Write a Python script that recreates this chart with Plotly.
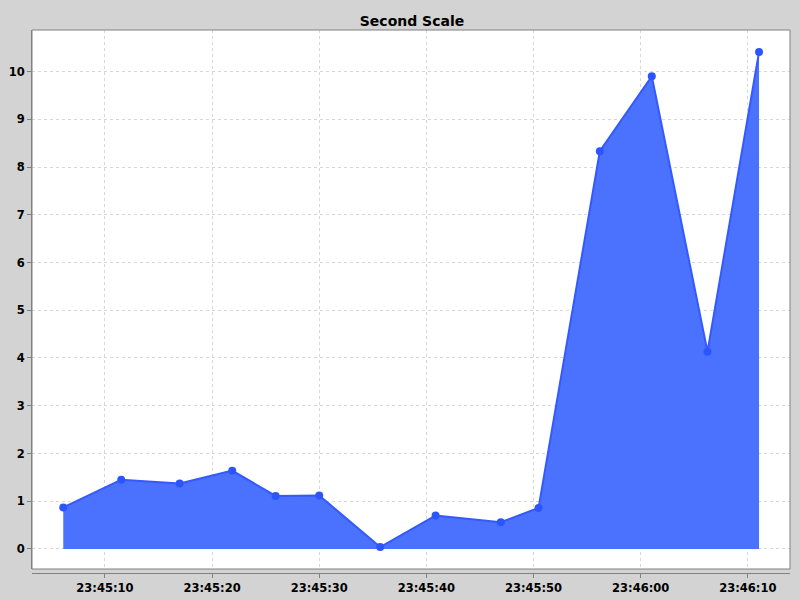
import plotly.graph_objects as go

# Data
times = [
    "2024-01-01 23:45:06.11", "2024-01-01 23:45:11.52", "2024-01-01 23:45:16.97",
    "2024-01-01 23:45:21.88", "2024-01-01 23:45:25.93", "2024-01-01 23:45:30.00",
    "2024-01-01 23:45:35.69", "2024-01-01 23:45:40.86", "2024-01-01 23:45:46.95",
    "2024-01-01 23:45:50.47", "2024-01-01 23:45:56.19", "2024-01-01 23:46:01.04",
    "2024-01-01 23:46:06.24", "2024-01-01 23:46:11.05",
]
values = [0.87, 1.45, 1.37, 1.64, 1.11, 1.12, 0.04, 0.70, 0.56, 0.86, 8.33, 9.90, 4.13, 10.41]

title_text = "Second Scale"
x_range = ["2024-01-01 23:45:03.19", "2024-01-01 23:46:13.94"]
y_range = [-0.42, 10.87]
y_ticks = list(range(0, 11))

FONT = "DejaVu Sans"
GRID = "#d6d6d6"
AXIS = "#808080"

fig = go.Figure()
fig.add_trace(go.Scatter(
    x=times, y=values, mode="lines+markers",
    fill="tozeroy", fillcolor="rgb(74,114,255)",
    line=dict(color="rgb(52,90,255)", width=2),
    marker=dict(color="rgb(45,85,255)", size=8),
    showlegend=False,
))

fig.update_layout(
    width=800, height=600,
    paper_bgcolor="#d3d3d3", plot_bgcolor="white",
    margin=dict(l=32, r=10, t=30, b=27, autoexpand=False),
    title=dict(text=title_text, x=412 / 800, xanchor="center", xref="container",
               y=1 - 21 / 600, yanchor="middle", yref="container",
               font=dict(family=FONT, size=14, color="black", weight="bold")),
    font=dict(family=FONT, size=11.5, color="black", weight="bold"),
    xaxis=dict(
        type="date", range=x_range, anchor="free", position=0, automargin=False,
        tickformat="%H:%M:%S", dtick=10000, tick0="2024-01-01 23:45:00",
        showgrid=True, gridcolor=GRID, griddash="3px,3px", gridwidth=1,
        showline=True, linecolor=AXIS, linewidth=1,
        ticks="outside", ticklen=4, tickcolor=AXIS,
        tickfont=dict(family=FONT, size=11.5, color="black", weight="bold"),
        zeroline=False,
    ),
    yaxis=dict(
        range=y_range, domain=[4 / 543, 1], tickvals=y_ticks, automargin=False,
        showgrid=True, gridcolor=GRID, griddash="3px,3px", gridwidth=1,
        showline=True, linecolor=AXIS, linewidth=1,
        ticks="outside", ticklen=4, tickcolor=AXIS,
        tickfont=dict(family=FONT, size=11.5, color="black", weight="bold"),
        zeroline=False,
    ),
    shapes=[dict(type="rect", xref="x domain", yref="y domain", x0=0, x1=1, y0=0, y1=1,
                 line=dict(color=AXIS, width=1), fillcolor="rgba(0,0,0,0)", layer="above")],
)

fig.write_html("out.html", config={"displayModeBar": False},
               post_script="document.body.style.margin='0';")
